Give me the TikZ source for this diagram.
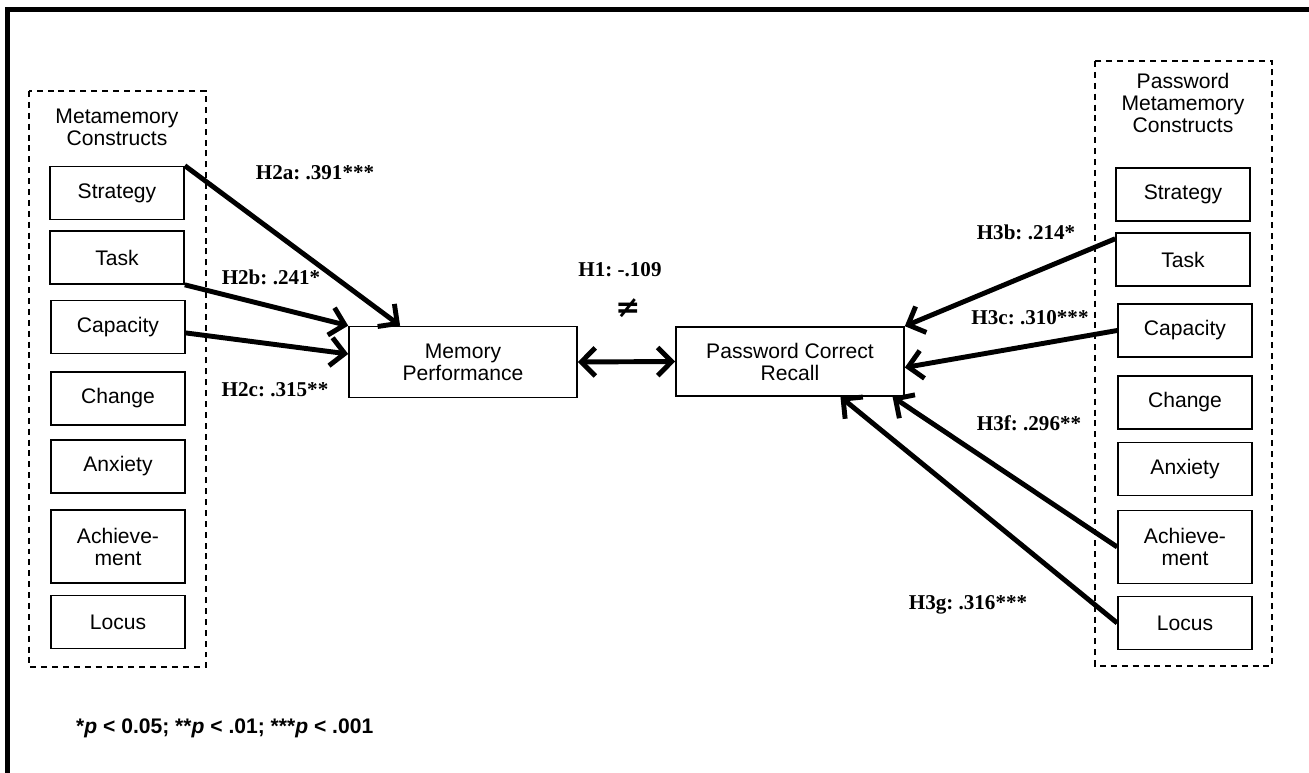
\documentclass[tikz,border=0pt]{standalone}
\usepackage{fontspec}
\setmainfont{Liberation Sans}
\newfontfamily\hypfont{Liberation Serif}
\newfontfamily\symfont{DejaVu Sans}
\usetikzlibrary{arrows.meta}
\frenchspacing
\begin{document}
\begin{tikzpicture}[x=0.02cm,y=-0.02cm,
  every node/.style={font=\fontsize{12}{12.5}\selectfont, align=center},
  box/.style={draw, line width=0.95pt, minimum width=2.68cm, minimum height=1.06cm, inner sep=0pt},
  tallbox/.style={box, minimum height=1.46cm},
  bigbox/.style={draw, line width=0.95pt, minimum width=4.56cm, minimum height=1.42cm, inner sep=0pt},
  grp/.style={draw, line width=0.9pt, dash pattern=on 3.4pt off 2.8pt},
  barb/.tip={Straight Barb[length=8pt,width=16pt]},
  link/.style={line width=2.8pt, -barb},
  hyp/.style={font=\hypfont\bfseries\fontsize{12}{12.5}\selectfont}]

\useasboundingbox (0,0) rectangle (1309,773);
\draw[line width=2.8pt] (1309,9.5) -- (7.5,9.5) -- (7.5,773);

\draw[grp] (29,91) rectangle (206,667);
\draw[grp] (1095,61) rectangle (1272,666);

\node (ttlL) at (117,127) {Metamemory\\Constructs};
\node (ttlR) at (1183,103) {Password\\Metamemory\\Constructs};

\node[box] (strL) at (117,193) {Strategy};
\node[box] (tskL) at (117,257.5) {Task};
\node[box] (capL) at (118,327) {Capacity};
\node[box] (chgL) at (118,398.5) {Change};
\node[box] (anxL) at (118,466.5) {Anxiety};
\node[tallbox] (achL) at (118,546.5) {Achieve-\\ment};
\node[box] (locL) at (118,622) {Locus};

\node[box] (strR) at (1183,194.5) {Strategy};
\node[box] (tskR) at (1183,259.5) {Task};
\node[box] (capR) at (1185,330.5) {Capacity};
\node[box] (chgR) at (1185,402.5) {Change};
\node[box] (anxR) at (1185,469) {Anxiety};
\node[tallbox] (achR) at (1185,547) {Achieve-\\ment};
\node[box] (locR) at (1185,623) {Locus};

\node[bigbox] (mem) at (463,362) {Memory\\Performance};
\node[bigbox, minimum height=1.38cm] (pcr) at (790,361.5) {Password Correct\\Recall};

\node[hyp] (h2a) at (315,173) {H2a: .391***};
\node[hyp] (h2b) at (271,277) {H2b: .241*};
\node[hyp] (h2c) at (275,390) {H2c: .315**};
\node[hyp] (h1) at (620,270) {H1: -.109};
\node[font=\symfont\bfseries\fontsize{17}{17}\selectfont] (neq) at (628,308) {≠};
\node[hyp] (h3b) at (1026,232) {H3b: .214*};
\node[hyp] (h3c) at (1030,318) {H3c: .310***};
\node[hyp] (h3f) at (1029,423) {H3f: .296**};
\node[hyp] (h3g) at (968,605) {H3g: .316***};

\node[anchor=west, font=\bfseries\fontsize{12}{12.5}\selectfont] (note) at (70,728)
  {*\textit{p} < 0.05; **\textit{p} < .01; ***\textit{p} < .001};

\draw[link] (strL.north east) -- (mem.150);
\draw[link] (tskL.south east) -- (mem.north west);
\draw[link] (capL.-5) -- (mem.176);
\draw[line width=2.8pt, barb-barb] (mem.east) -- (pcr.west);

\draw[link] (tskR.163) -- (pcr.north east);
\draw[link] (capR.west) -- (pcr.-3);
\draw[link] (achR.west) -- (pcr.-19);
\draw[link] (locR.west) -- (pcr.-35);

\end{tikzpicture}
\end{document}
